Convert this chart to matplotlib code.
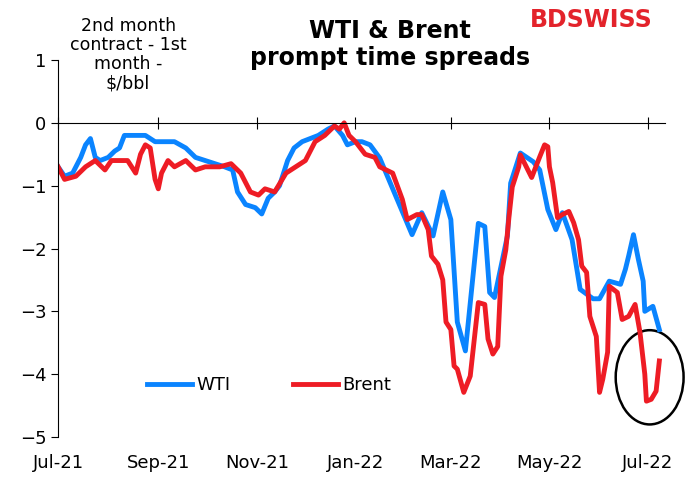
import matplotlib.pyplot as plt
from matplotlib.patches import Ellipse
import matplotlib.transforms as mtransforms
import numpy as np

# days since 1 Jul 2021
wti_days = [0,4,9,14,17,20,23,26,31,35,38,41,48,54,60,66,72,79,85,91,97,103,108,111,116,122,126,130,134,137,142,146,151,156,161,167,171,176,179,184,188,193,199,209,219,225,232,238,243,247,252,260,264,267,270,278,280,286,294,298,303,308,312,318,323,331,335,341,348,351,353,356,359,362,363,368,372]
wti = [-0.7,-0.85,-0.8,-0.55,-0.35,-0.25,-0.55,-0.6,-0.55,-0.45,-0.4,-0.2,-0.2,-0.2,-0.3,-0.3,-0.3,-0.4,-0.55,-0.6,-0.65,-0.7,-0.75,-1.1,-1.3,-1.35,-1.45,-1.2,-1.1,-1.0,-0.6,-0.4,-0.3,-0.25,-0.2,-0.1,-0.05,-0.2,-0.35,-0.3,-0.3,-0.35,-0.56,-1.17,-1.78,-1.43,-1.8,-1.1,-1.54,-3.17,-3.63,-1.6,-1.65,-2.7,-2.78,-1.8,-0.96,-0.48,-0.62,-0.75,-1.38,-1.7,-1.43,-1.86,-2.65,-2.8,-2.8,-2.52,-2.57,-2.33,-2.12,-1.78,-2.17,-2.52,-3.0,-2.92,-3.29]

brent_days = [0,4,11,17,23,29,33,40,43,48,51,54,57,60,62,64,68,72,79,85,91,100,107,113,119,124,128,134,141,147,153,159,165,171,174,177,180,184,190,196,199,207,213,216,222,225,229,231,235,238,240,243,245,247,251,255,260,264,266,269,272,274,277,279,281,285,286,293,298,301,303,304,306,309,312,316,319,322,324,327,329,333,335,337,340,341,346,349,353,357,360,363,364,367,370,372]
brent = [-0.7,-0.9,-0.85,-0.7,-0.6,-0.75,-0.6,-0.6,-0.6,-0.8,-0.5,-0.35,-0.4,-0.9,-1.05,-0.8,-0.6,-0.7,-0.6,-0.75,-0.7,-0.7,-0.65,-0.8,-1.1,-1.15,-1.05,-1.1,-0.8,-0.7,-0.6,-0.3,-0.2,-0.05,-0.1,0.0,-0.2,-0.3,-0.5,-0.55,-0.7,-0.8,-1.22,-1.54,-1.46,-1.46,-1.7,-2.12,-2.25,-2.5,-3.17,-3.29,-3.87,-3.92,-4.29,-4.03,-2.86,-2.89,-3.44,-3.68,-3.56,-2.44,-2.02,-1.49,-1.02,-0.7,-0.51,-0.87,-0.54,-0.35,-0.38,-0.7,-0.95,-1.51,-1.46,-1.41,-1.59,-1.86,-2.28,-2.38,-3.08,-3.4,-4.29,-4.08,-3.65,-2.6,-2.7,-3.13,-3.08,-2.89,-3.33,-4.0,-4.43,-4.4,-4.27,-3.79]

tick_days = [0, 62, 123, 184, 243, 304, 365]
tick_labels = ['Jul-21', 'Sep-21', 'Nov-21', 'Jan-22', 'Mar-22', 'May-22', 'Jul-22']

fig = plt.figure(figsize=(7, 4.98), dpi=100)
ax = fig.add_axes([0.083, 0.1225, 0.867, 0.757])
ax.plot(wti_days, wti, color='#0a84ff', lw=3.5, label='WTI')
ax.plot(brent_days, brent, color='#ee1c25', lw=3.5, label='Brent')

ax.set_xlim(0, 375.5)
ax.set_ylim(-5, 1)
ax.set_yticks(range(-5, 2))
ax.tick_params(axis='y', labelsize=13, length=5)
ax.spines['top'].set_visible(False)
ax.spines['right'].set_visible(False)
ax.spines['bottom'].set_position(('data', 0))
ax.set_xticks(tick_days)
ax.tick_params(axis='x', direction='inout', length=8, labelbottom=False)
trans = mtransforms.blended_transform_factory(ax.transData, ax.transAxes)
for d, lab in zip(tick_days, tick_labels):
    ax.text(d, -0.045, lab, transform=trans, ha='center', va='top', fontsize=13)

ax.legend(loc='lower left', bbox_to_anchor=(0.12, 0.07), ncol=2, frameon=False,
          fontsize=13, handlelength=2.5, columnspacing=3.5, handletextpad=0.2)

ax.add_patch(Ellipse((366, -4.05), 42, 1.5, fill=False, color='black', lw=1.8, clip_on=False))

fig.text(0.183, 0.89, '2nd month\ncontract - 1st\nmonth -\n$/bbl', ha='center', va='center', fontsize=12.5, linespacing=1.1)
fig.text(0.557, 0.91, 'WTI & Brent\nprompt time spreads', ha='center', va='center',
         fontsize=17, fontweight='bold', linespacing=1.15)
fig.text(0.845, 0.96, 'BDSWISS', ha='center', va='center', fontsize=17, fontweight='bold', color='#e3232b')

fig.savefig('out.png', dpi=100)
